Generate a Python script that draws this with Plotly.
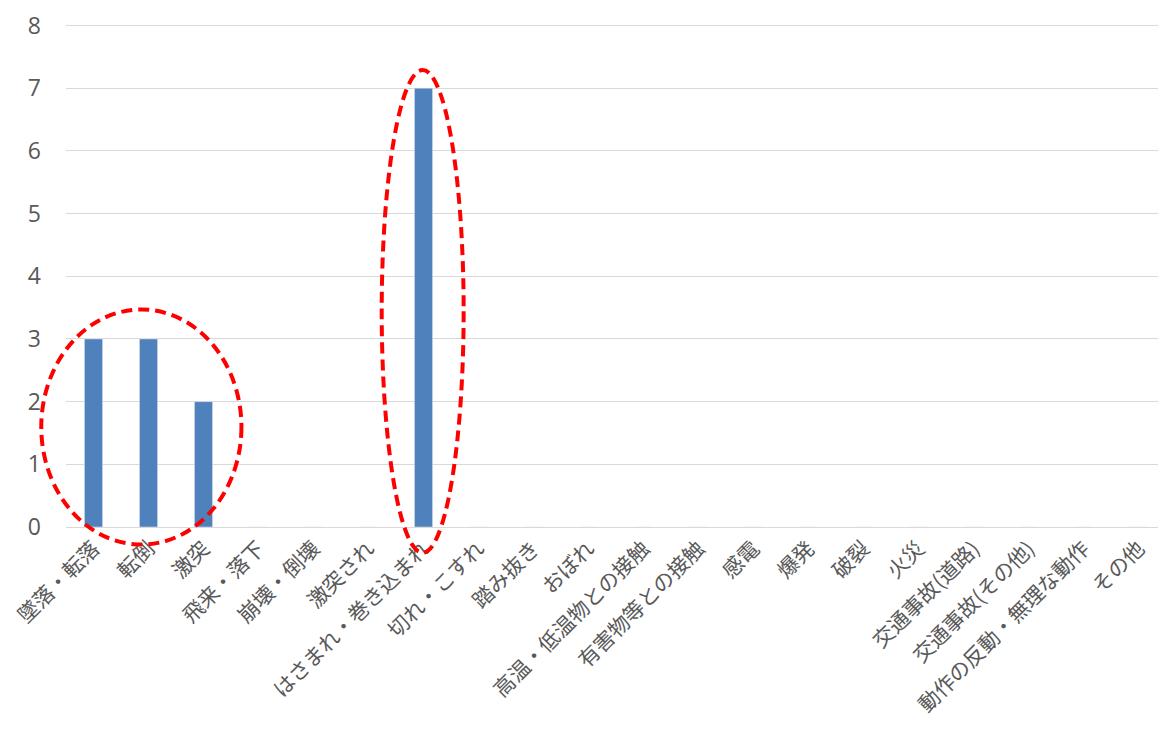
import plotly.graph_objects as go

categories = ["墜落・転落", "転倒", "激突", "飛来・落下", "崩壊・倒壊", "激突され",
              "はさまれ・巻き込まれ", "切れ・こすれ", "踏み抜き", "おぼれ",
              "高温・低温物との接触", "有害物等との接触", "感電", "爆発", "破裂",
              "火災", "交通事故(道路)", "交通事故(その他)", "動作の反動・無理な動作", "その他"]
values = [3, 3, 2, 0, 0, 0, 7, 0, 0, 0, 0, 0, 0, 0, 0, 0, 0, 0, 0, 0]
y_ticks = [0, 1, 2, 3, 4, 5, 6, 7, 8]

# highlighted groups: ellipse bounds in data units (category index, value)
groups = [(-0.95, 2.69, -0.28, 3.47), (5.24, 6.73, -0.41, 7.29)]

n = len(categories)
ymax = 8
yr = [0, 8.04]
fig = go.Figure(go.Bar(x=categories, y=values, marker_color="#4F81BD", width=0.33))

shapes = []
for x0, x1, y0, y1 in groups:
    shapes.append(dict(type="circle", xref="x domain", yref="y domain",
                       x0=(x0 + 0.5) / n, x1=(x1 + 0.5) / n,
                       y0=y0 / yr[1], y1=y1 / yr[1],
                       line=dict(color="#FF0000", width=4, dash="11px,6px")))

fig.update_layout(
    width=1166, height=749,
    margin=dict(l=58, r=8, t=15, b=230),
    plot_bgcolor="white", paper_bgcolor="white",
    font=dict(family="Noto Sans CJK JP", color="#595959"),
    showlegend=False,
    shapes=shapes,
    xaxis=dict(tickangle=-45, tickfont=dict(size=21, color="#595959"),
               showgrid=False, showline=True, linecolor="#D9D9D9", linewidth=1,
               ticks="", range=[-0.5, n - 0.5], automargin=False),
    yaxis=dict(range=yr, tickvals=y_ticks,
               tickfont=dict(family="Open Sans", size=23, color="#595959"),
               showgrid=True, gridcolor="#D9D9D9", gridwidth=1, zeroline=False,
               ticks="", ticklabelstandoff=24, automargin=False,
               ticklabeloverflow="allow"),
)
fig.write_html("out.html")
